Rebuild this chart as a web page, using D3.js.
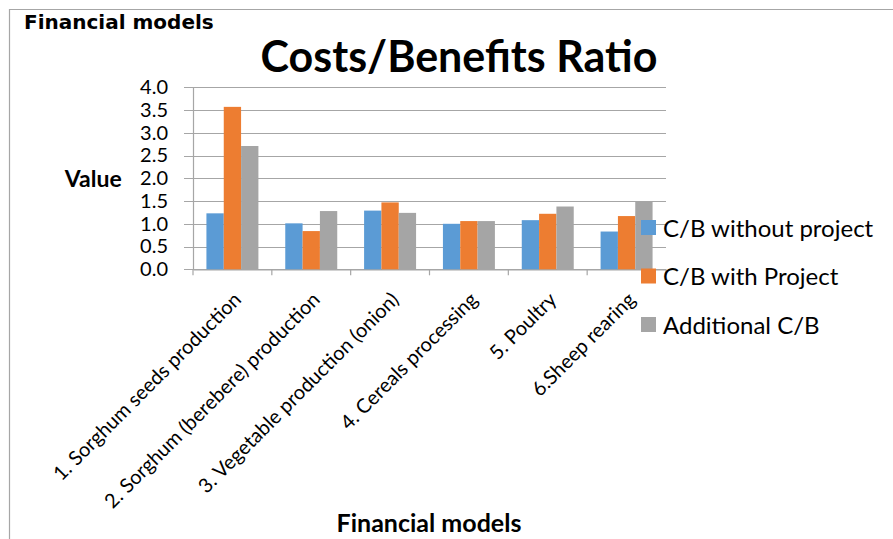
<!DOCTYPE html>
<html>
<head>
<meta charset="utf-8">
<script src="https://cdn.jsdelivr.net/npm/d3@7"></script>
<style>
  body { margin: 0; background: #fff; }
  text { fill: #000; }
</style>
</head>
<body>
<div id="chart"></div>
<script>
// Data
const categories = [
  "1. Sorghum seeds production",
  "2. Sorghum (berebere) production",
  "3. Vegetable production (onion)",
  "4. Cereals processing",
  "5. Poultry",
  "6.Sheep rearing"
];
const seriesNames = ["C/B without project", "C/B with Project", "Additional C/B"];
const withoutProject = [1.23, 1.01, 1.29, 1.00, 1.08, 0.83];
const withProject = [3.57, 0.84, 1.47, 1.06, 1.22, 1.17];
const additionalCB = [2.71, 1.28, 1.24, 1.06, 1.38, 1.50];
const yTicks = [0, 0.5, 1, 1.5, 2, 2.5, 3, 3.5, 4];
const colors = ["#5b9bd5", "#ed7d31", "#a5a5a5"];

const seriesValues = [withoutProject, withProject, additionalCB];

const width = 893, height = 539;
const plot = { left: 193, right: 666, top: 87.3, bottom: 269.3 };
const font = "Lato, 'Open Sans', sans-serif";

const svg = d3.select("#chart")
  .append("svg")
  .attr("width", width)
  .attr("height", height);

// Outer frame (only top and left edges visible)
svg.append("path")
  .attr("d", `M9.5,${height} L9.5,9.5 L${width},9.5`)
  .attr("fill", "none")
  .attr("stroke", "#a6a6a6")
  .attr("stroke-width", 1.2);

// Scales
const x = d3.scaleBand()
  .domain(categories)
  .range([plot.left, plot.right])
  .paddingInner(0)
  .paddingOuter(0);

const xs = d3.scaleBand()
  .domain(seriesNames)
  .range([0, x.bandwidth()])
  .paddingInner(0)
  .paddingOuter(0.775);

const y = d3.scaleLinear()
  .domain([0, 4])
  .range([plot.bottom, plot.top]);

// Gridlines
svg.append("g")
  .selectAll("line")
  .data(yTicks)
  .join("line")
  .attr("x1", plot.left - 9)
  .attr("x2", plot.right)
  .attr("y1", d => Math.round(y(d)) + 0.5)
  .attr("y2", d => Math.round(y(d)) + 0.5)
  .attr("stroke", "#a6a6a6")
  .attr("stroke-width", 1.2);

// Y axis
const yAxis = svg.append("g")
  .attr("transform", `translate(${plot.left},0)`)
  .call(d3.axisLeft(y).tickValues(yTicks).tickFormat(d3.format(".1f")).tickSize(0).tickPadding(25));
yAxis.select(".domain").attr("stroke", "#a6a6a6").attr("stroke-width", 1.2);
yAxis.selectAll("text")
  .attr("font-family", font)
  .attr("font-size", 20)
  .attr("fill", "#000");

// X axis
const xAxis = svg.append("g")
  .attr("transform", `translate(0,${Math.round(plot.bottom) + 0.5})`)
  .call(d3.axisBottom(x).tickSize(0).tickFormat(""));
xAxis.select(".domain").attr("stroke", "#a6a6a6").attr("stroke-width", 1.2);

// tick marks at category boundaries
svg.append("g")
  .selectAll("line")
  .data(categories.concat([null]))
  .join("line")
  .attr("x1", (d, i) => plot.left + i * x.step())
  .attr("x2", (d, i) => plot.left + i * x.step())
  .attr("y1", plot.bottom)
  .attr("y2", plot.bottom + 6)
  .attr("stroke", "#a6a6a6")
  .attr("stroke-width", 1.2);

// Bars
seriesNames.forEach((name, si) => {
  svg.append("g")
    .selectAll("rect")
    .data(seriesValues[si])
    .join("rect")
    .attr("x", (d, i) => x(categories[i]) + xs(name))
    .attr("y", d => y(d))
    .attr("width", xs.bandwidth())
    .attr("height", d => y(0) - y(d))
    .attr("fill", colors[si]);
});

// Rotated category labels
svg.append("g")
  .selectAll("text")
  .data(categories)
  .join("text")
  .attr("transform", d => `translate(${x(d) + x.bandwidth() / 2 + 5},296) rotate(-45)`)
  .attr("text-anchor", "end")
  .attr("dy", "0.35em")
  .attr("font-family", font)
  .attr("font-size", 20)
  .text(d => d);

// Legend
const legend = svg.append("g")
  .attr("transform", "translate(641,220)");

const legendItem = legend.selectAll("g")
  .data(seriesNames)
  .join("g")
  .attr("transform", (d, i) => `translate(0,${i * 48.5})`);

legendItem.append("rect")
  .attr("width", 15)
  .attr("height", 15)
  .attr("fill", (d, i) => colors[i]);

legendItem.append("text")
  .attr("x", 22)
  .attr("y", 16.5)
  .attr("font-family", font)
  .attr("font-size", 24)
  .text(d => d);

// Titles
svg.append("text")
  .attr("x", 459)
  .attr("y", 71.7)
  .attr("text-anchor", "middle")
  .attr("font-family", font)
  .attr("font-weight", "bold")
  .attr("font-size", 43)
  .text("Costs/Benefits Ratio");

svg.append("text")
  .attr("x", 24)
  .attr("y", 29.3)
  .attr("font-family", "'DejaVu Sans', sans-serif")
  .attr("font-weight", "bold")
  .attr("font-size", 20)
  .text("Financial models");

svg.append("text")
  .attr("x", 121.7)
  .attr("y", 186.7)
  .attr("text-anchor", "end")
  .attr("font-family", font)
  .attr("font-weight", "bold")
  .attr("font-size", 23)
  .text("Value");

svg.append("text")
  .attr("x", 429)
  .attr("y", 531.7)
  .attr("text-anchor", "middle")
  .attr("font-family", font)
  .attr("font-weight", "bold")
  .attr("font-size", 25)
  .text("Financial models");
</script>
</body>
</html>
